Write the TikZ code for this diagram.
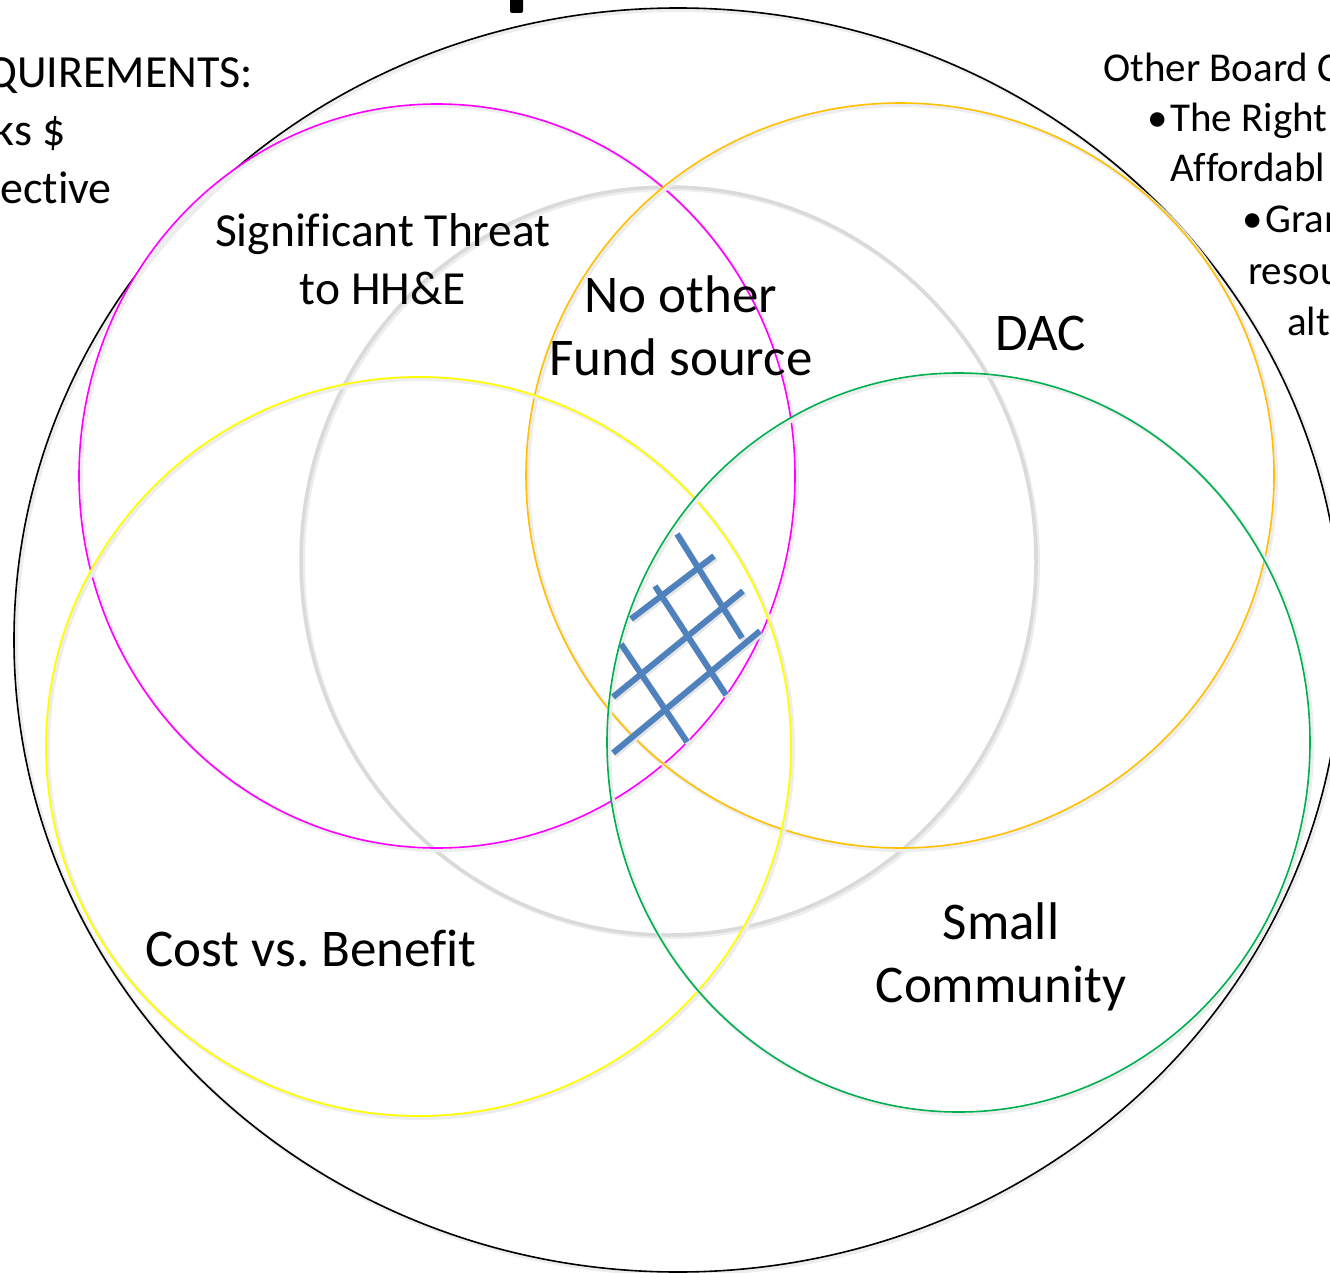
\documentclass[tikz,border=0pt]{standalone}
\usepackage{fontspec}
\setmainfont[Ligatures=NoCommon]{Carlito}
\frenchspacing

\definecolor{ringGray}{RGB}{218,218,218}
\definecolor{ringMagenta}{RGB}{255,0,255}
\definecolor{ringOrange}{RGB}{255,192,0}
\definecolor{ringYellow}{RGB}{255,255,0}
\definecolor{ringGreen}{RGB}{0,176,80}
\definecolor{hatchBlue}{RGB}{79,129,189}

\newcommand{\ringV}[5]{
\begin{scope}[shift={(#1)}]
\draw [line width=4pt, black!7, shift={(2,2)}] (0,0) ellipse [x radius=#2pt, y radius=#3pt];
\draw [line width=#5, #4] (0,0) ellipse [x radius=#2pt, y radius=#3pt];
\end{scope}
}
\newcommand{\bulletV}{\makebox[23pt][l]{•}}

\begin{document}
\begin{tikzpicture}[x=1pt, y=-1pt,
  big label/.style={font=\fontsize{53}{63}\selectfont, align=center, inner sep=0pt},
  small label/.style={font=\fontsize{47.5}{58}\selectfont, align=center, inner sep=0pt},
  side text/.style={font=\fontsize{46}{58}\selectfont, inner sep=0pt, anchor=base east},
  board text/.style={font=\fontsize{41}{51}\selectfont, inner sep=0pt, anchor=base west},
  hatch/.style={line width=6pt, hatchBlue},
  hatch shadow/.style={line width=6pt, black!10}]

\useasboundingbox (0,0) rectangle (1330,1273);
\clip (0,0) rectangle (1330,1273);

\begin{scope}
\path (678,640) coordinate (R0);
\path (668.5,561) coordinate (R1);
\path (437,476) coordinate (R2);
\path (900,475.5) coordinate (R3);
\path (418.5,746.5) coordinate (R4);
\path (958.5,742.5) coordinate (R5);

\ringV{R1}{367.5}{374}{ringGray}{3.5pt};
\ringV{R0}{664}{632}{black}{1.6pt};
\ringV{R2}{358}{372}{ringMagenta}{1.6pt};
\ringV{R3}{374}{372.5}{ringOrange}{1.6pt};
\ringV{R4}{372.5}{369.5}{ringYellow}{1.8pt};
\ringV{R5}{351.5}{369.5}{ringGreen}{1.6pt};
\end{scope}

% hatch in the common part
\begin{scope}[shift={(2,2)}]
\draw [hatch shadow] (631,619) -- (714,556);
\draw [hatch shadow] (613,697) -- (743,591);
\draw [hatch shadow] (613,753) -- (760,631);
\draw [hatch shadow] (677,534) -- (742,638);
\draw [hatch shadow] (655,586) -- (726,695);
\draw [hatch shadow] (621,644) -- (687,742);
\end{scope}
\draw [hatch] (631,619) -- (714,556);
\draw [hatch] (613,697) -- (743,591);
\draw [hatch] (613,753) -- (760,631);
\draw [hatch] (677,534) -- (742,638);
\draw [hatch] (655,586) -- (726,695);
\draw [hatch] (621,644) -- (687,742);

\fill [rounded corners=2pt] (510,-6) rectangle (523,13);

\node [small label] (threat) at (383,259) {Significant Threat\\to HH\&E};
\node [big label] (nofund) at (681,326) {No other\\Fund source};
\node [big label] (dac) at (1041,333) {DAC};
\node [big label] (cost) at (311,948) {Cost vs. Benefit};
\node [big label] (small) at (1001,957) {Small\\Community};

\node [side text] (reqA) at (253,88) {QUIREMENTS:};
\node [side text] (reqB) at (66,146) {ks \$};
\node [side text] (reqC) at (112,204) {ective};

\node [board text] (boardA) at (1103,82) {Other Board C};
\node [board text] (boardB) at (1147,132) {\bulletV The Right};
\node [board text] (boardC) at (1170,182) {Affordabl};
\node [board text] (boardD) at (1242,233) {\bulletV Gran};
\node [board text] (boardE) at (1248,284) {resou};
\node [board text] (boardF) at (1287,335) {alt};

\end{tikzpicture}
\end{document}
